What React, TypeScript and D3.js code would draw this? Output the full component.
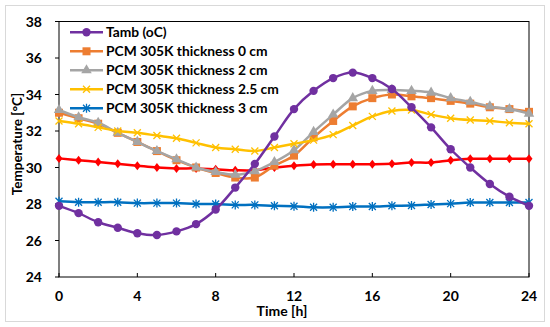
import { useEffect, useRef } from "react";
import * as d3 from "d3";

const hours = d3.range(0, 25);

const tamb = [27.9, 27.5, 27.0, 26.7, 26.4, 26.3, 26.5, 26.9, 27.7, 28.9, 30.2, 31.7, 33.2, 34.2, 34.9, 35.2, 34.9, 34.3, 33.3, 32.2, 31.0, 30.0, 29.1, 28.4, 27.9];
const pcm0 = [33.0, 32.7, 32.4, 31.9, 31.4, 30.9, 30.4, 30.0, 29.7, 29.45, 29.45, 30.1, 30.65, 31.65, 32.55, 33.35, 33.8, 34.0, 33.9, 33.8, 33.65, 33.5, 33.3, 33.2, 33.05];
const pcm2 = [33.15, 32.75, 32.45, 31.9, 31.4, 30.9, 30.45, 30.0, 29.75, 29.6, 29.8, 30.3, 30.95, 31.95, 32.9, 33.8, 34.2, 34.25, 34.2, 34.1, 33.8, 33.6, 33.35, 33.2, 32.95];
const pcm25 = [32.55, 32.4, 32.2, 32.0, 31.9, 31.75, 31.6, 31.35, 31.1, 31.0, 30.9, 31.1, 31.3, 31.5, 31.8, 32.3, 32.8, 33.1, 33.15, 32.9, 32.7, 32.6, 32.55, 32.45, 32.4];
const pcm3 = [28.15, 28.1, 28.1, 28.1, 28.05, 28.05, 28.05, 28.0, 28.0, 27.95, 27.95, 27.9, 27.88, 27.82, 27.82, 27.86, 27.86, 27.9, 27.92, 27.97, 28.02, 28.08, 28.08, 28.08, 28.08];
const redSeries = [30.5, 30.4, 30.3, 30.2, 30.1, 30.0, 29.95, 29.95, 29.9, 29.85, 29.85, 30.0, 30.1, 30.17, 30.18, 30.18, 30.18, 30.2, 30.27, 30.27, 30.4, 30.48, 30.48, 30.48, 30.48];

const xTicks = [0, 4, 8, 12, 16, 20, 24];
const yTicks = [24, 26, 28, 30, 32, 34, 36, 38];

type Series = { name: string | null; values: number[]; color: string; marker: string };

// drawing order (last on top)
const series: Series[] = [
  { name: null, values: redSeries, color: "#FF0000", marker: "diamond" },
  { name: "PCM 305K thickness 3 cm", values: pcm3, color: "#0070C0", marker: "asterisk" },
  { name: "PCM 305K thickness 0 cm", values: pcm0, color: "#ED7D31", marker: "square" },
  { name: "PCM 305K thickness 2 cm", values: pcm2, color: "#A5A5A5", marker: "triangle" },
  { name: "PCM 305K thickness 2.5 cm", values: pcm25, color: "#FFC000", marker: "x" },
  { name: "Tamb (oC)", values: tamb, color: "#7030A0", marker: "circle" },
];

const legendOrder = ["Tamb (oC)", "PCM 305K thickness 0 cm", "PCM 305K thickness 2 cm", "PCM 305K thickness 2.5 cm", "PCM 305K thickness 3 cm"];

const FONT = "Lato, 'Open Sans', sans-serif";

function drawMarker(g: d3.Selection<SVGGElement, unknown, null, undefined>, type: string, x: number, y: number, color: string) {
  if (type === "circle") {
    g.append("circle").attr("cx", x).attr("cy", y).attr("r", 4.2).attr("fill", color);
  } else if (type === "square") {
    g.append("rect").attr("x", x - 4).attr("y", y - 4).attr("width", 8).attr("height", 8).attr("fill", color);
  } else if (type === "triangle") {
    g.append("path").attr("d", d3.symbol(d3.symbolTriangle, 48)()).attr("transform", `translate(${x},${y})`).attr("fill", color);
  } else if (type === "diamond") {
    g.append("path").attr("d", `M${x},${y - 4.5}L${x + 3.5},${y}L${x},${y + 4.5}L${x - 3.5},${y}Z`).attr("fill", color);
  } else if (type === "x") {
    g.append("path").attr("d", `M${x - 3.5},${y - 3.5}L${x + 3.5},${y + 3.5}M${x - 3.5},${y + 3.5}L${x + 3.5},${y - 3.5}`)
      .attr("stroke", color).attr("stroke-width", 1.3);
  } else if (type === "asterisk") {
    g.append("path").attr("d", `M${x - 3.5},${y - 3.5}L${x + 3.5},${y + 3.5}M${x - 3.5},${y + 3.5}L${x + 3.5},${y - 3.5}M${x},${y - 4.5}L${x},${y + 4.5}`)
      .attr("stroke", color).attr("stroke-width", 1.3);
  }
}

export default function App() {
  const ref = useRef<SVGSVGElement>(null);

  useEffect(() => {
    if (!ref.current) return;
    const svg = d3.select(ref.current);
    svg.selectAll("*").remove();

    const width = 550;
    const height = 327;
    const margin = { top: 21.5, right: 21, bottom: 50, left: 59 };

    svg.append("rect")
      .attr("x", 5.5).attr("y", 5.5).attr("width", 539).attr("height", 316)
      .attr("fill", "#fff").attr("stroke", "#d9d9d9").attr("stroke-width", 1);

    const x = d3.scaleLinear().domain([0, 24]).range([margin.left, width - margin.right]);
    const y = d3.scaleLinear().domain([24, 38]).range([height - margin.bottom, margin.top]);

    // plot border
    svg.append("rect")
      .attr("x", x(0)).attr("y", y(38)).attr("width", x(24) - x(0)).attr("height", y(24) - y(38))
      .attr("fill", "none").attr("stroke", "#000").attr("stroke-width", 1);

    // y ticks (outside)
    const yAxis = svg.append("g");
    yTicks.forEach((t) => {
      yAxis.append("line").attr("x1", x(0) - 4).attr("x2", x(0)).attr("y1", y(t)).attr("y2", y(t)).attr("stroke", "#000");
      yAxis.append("text").attr("x", x(0) - 17).attr("y", y(t)).attr("dy", "0.36em")
        .attr("text-anchor", "end").attr("font-family", FONT).attr("font-weight", "bold").attr("font-size", 14)
        .attr("fill", "#000").text(t);
    });

    // x ticks (inside)
    const xAxis = svg.append("g");
    xTicks.forEach((t) => {
      xAxis.append("line").attr("x1", x(t)).attr("x2", x(t)).attr("y1", y(24)).attr("y2", y(24) - 4).attr("stroke", "#000");
      xAxis.append("text").attr("x", x(t)).attr("y", 300.5)
        .attr("text-anchor", "middle").attr("font-family", FONT).attr("font-weight", "bold").attr("font-size", 14)
        .attr("fill", "#000").text(t);
    });

    svg.append("text").attr("x", 282).attr("y", 316).attr("text-anchor", "middle")
      .attr("font-family", FONT).attr("font-weight", "bold").attr("font-size", 14).attr("fill", "#000").text("Time [h]");

    svg.append("text").attr("transform", `translate(22,144) rotate(-90)`).attr("text-anchor", "middle")
      .attr("font-family", FONT).attr("font-weight", "bold").attr("font-size", 13.5).attr("fill", "#000").text("Temperature [°C]");

    const line = d3.line<number>()
      .x((_, i) => x(hours[i]))
      .y((d) => y(d))
      .curve(d3.curveCatmullRom.alpha(0.5));

    series.forEach((s) => {
      const g = svg.append("g");
      g.append("path").attr("d", line(s.values)).attr("fill", "none").attr("stroke", s.color).attr("stroke-width", 2.5);
      s.values.forEach((v, i) => drawMarker(g, s.marker, x(hours[i]), y(v), s.color));
    });

    const legend = svg.append("g");
    legendOrder.forEach((name, i) => {
      const s = series.find((d) => d.name === name)!;
      const ly = 32.3 + i * 19;
      legend.append("line").attr("x1", 70).attr("x2", 103).attr("y1", ly).attr("y2", ly)
        .attr("stroke", s.color).attr("stroke-width", 2.5);
      drawMarker(legend, s.marker, 86.5, ly, s.color);
      legend.append("text").attr("x", 106).attr("y", ly).attr("dy", "0.36em")
        .attr("font-family", FONT).attr("font-weight", "bold").attr("font-size", 13.8).attr("fill", "#000").text(name);
    });
  }, []);

  return (
    <svg ref={ref} width={550} height={327} style={{ position: "absolute", left: 0, top: 0, background: "#fff" }} />
  );
}
